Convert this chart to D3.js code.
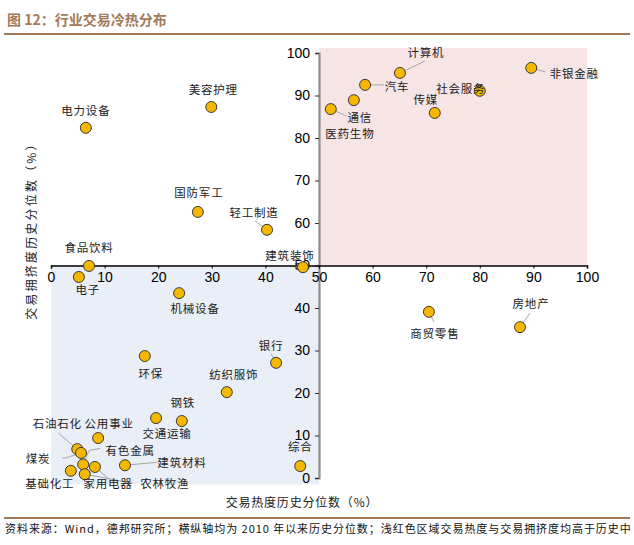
<!DOCTYPE html>
<html>
  <head>
    <meta charset="utf-8">
    <title>行业交易冷热分布</title>
    <style>
      body { margin: 0; background: #fff; font-family: "Noto Sans CJK SC", sans-serif; }
      .tick text { font-family: "Liberation Sans", Arial, sans-serif; font-size: 14px; fill: #000; }
      .lbl { font-size: 11.5px; fill: #222; letter-spacing: 0.8px; }
      .leader { fill: none; stroke: #a6a6a6; stroke-width: 1; }
      .dot { fill: #f5b700; stroke: #3a3a3a; stroke-width: 1; }
    </style>
  </head>
  <body>
    <script src="https://cdn.jsdelivr.net/npm/d3@7"></script>
    <script>
      // industries, trading heat percentile (x) and crowding percentile (y)
      var industries = ["非银金融","计算机","汽车","通信","医药生物","传媒","社会服务","美容护理","电力设备","国防军工",
                        "轻工制造","食品饮料","建筑装饰","电子","机械设备","商贸零售","房地产","环保","银行","纺织服饰",
                        "钢铁","交通运输","公用事业","石油石化","煤炭","有色金属","建筑材料","基础化工","家用电器","农林牧渔","综合"];
      var heat =  [89.6, 65.1, 58.6, 52.2, 56.5, 71.6, 80.0, 29.9, 6.5, 27.4,
                   40.3, 7.1, 47.0, 5.2, 23.9, 70.5, 87.5, 17.5, 42.0, 32.8,
                   24.4, 19.6, 8.8, 4.9, 5.6, 6.0, 13.8, 3.7, 8.2, 6.3, 46.5];
      var crowd = [96.5, 95.3, 92.5, 86.8, 88.9, 85.9, 91.1, 87.3, 82.4, 62.6,
                   58.4, 49.9, 49.6, 47.3, 43.5, 39.1, 35.5, 28.7, 27.1, 20.2,
                   13.4, 14.1, 9.4, 6.8, 5.9, 3.2, 3.0, 1.7, 2.6, 0.9, 2.8];
      var xTicks = [0,10,20,30,40,50,60,70,80,90,100];
      var yTicks = [0,10,20,30,40,50,60,70,80,90,100];

      // label placement (pixel offsets from the dot) and leader lines
      var labelPos = {
        "非银金融":[43,5,[[14,4]]], "计算机":[26,-21,[[25,-12]]], "汽车":[32,1,[[19,0]]],
        "通信":[29,8,[[16,7]]], "医药生物":[-4,33], "传媒":[-9,-14], "社会服务":[-19,-3],
        "美容护理":[2,-18], "电力设备":[0,-18], "国防军工":[1,-20], "轻工制造":[-13,-18,[[-12,-9]]],
        "食品饮料":[0,-19], "建筑装饰":[-13,-12], "电子":[9,12], "机械设备":[16,15],
        "商贸零售":[6,21,[[5,10]]], "房地产":[11,-24,[[10,-14]]], "环保":[6,17], "银行":[-5,-18,[[-5,-9]]],
        "纺织服饰":[7,-18], "钢铁":[1,-19], "交通运输":[11,15], "公用事业":[11,-15],
        "石油石化":[-20,-26,[[-19,-16]]], "煤炭":[-43,5,[[-15,5],[-19,5]]],
        "有色金属":[47,-14,[[6,-14],[17,-16]]], "建筑材料":[57,-3,[[32,-3]]],
        "基础化工":[-21,12], "家用电器":[13,16,[[15,13]]], "农林牧渔":[80,9,[[48,9]]], "综合":[0,-20]
      };

      var W = 634, H = 545;
      var svg = d3.select("body").append("svg").attr("width", W).attr("height", H);

      var x = d3.scaleLinear().domain([0, 100]).range([51, 587]);
      var y = d3.scaleLinear().domain([0, 100]).range([478, 53]);

      // header and footer
      svg.append("text").attr("x", 7).attr("y", 25)
        .style("font-size", "14px").style("font-weight", "bold").style("fill", "#a27a58")
        .text("图 12：行业交易冷热分布");
      svg.append("line").attr("x1", 4).attr("x2", 630).attr("y1", 34).attr("y2", 34)
        .style("stroke", "#a27a58").style("stroke-width", 2);
      svg.append("line").attr("x1", 4).attr("x2", 630).attr("y1", 518).attr("y2", 518)
        .style("stroke", "#a27a58").style("stroke-width", 2);
      svg.append("text").attr("x", 5).attr("y", 533)
        .style("font-size", "11px").style("letter-spacing", "0.95px").style("fill", "#111")
        .text("资料来源：Wind，德邦研究所；横纵轴均为 2010 年以来历史分位数；浅红色区域交易热度与交易拥挤度均高于历史中");

      // shaded quadrants
      svg.append("rect").attr("x", x(0)).attr("y", y(50))
        .attr("width", x(50) - x(0)).attr("height", y(-1.5) - y(50)).style("fill", "#e9eef7");
      svg.append("rect").attr("x", x(50)).attr("y", y(101.2))
        .attr("width", x(100) - x(50)).attr("height", y(50) - y(101.2)).style("fill", "#f7e4e5");

      // axes crossing at (50,50)
      var yAxis = svg.append("g").attr("transform", "translate(" + x(50) + ",0)")
        .call(d3.axisLeft(y).tickValues(yTicks).tickSize(4).tickPadding(5));
      yAxis.select(".domain").style("stroke", "#8c8c8c").style("stroke-width", 2.2);
      yAxis.selectAll(".tick line").style("stroke", "#333");

      var xAxis = svg.append("g").attr("transform", "translate(0," + y(50) + ")")
        .call(d3.axisBottom(x).tickValues(xTicks).tickSize(3).tickPadding(4));
      xAxis.select(".domain").style("stroke", "#000").style("stroke-width", 1.5);

      // axis titles
      svg.append("text").attr("x", 302).attr("y", 507).attr("text-anchor", "middle")
        .attr("class", "lbl").style("font-size", "12px").text("交易热度历史分位数（%）");
      svg.append("text").attr("transform", "translate(36,228) rotate(-90)").attr("text-anchor", "middle")
        .attr("class", "lbl").style("font-size", "12px").style("letter-spacing", "2.2px")
        .text("交易拥挤度历史分位数（%）");

      var pts = industries.map(function (name, i) {
        return {name: name, heat: heat[i], crowd: crowd[i], pos: labelPos[name]};
      });

      // leader lines
      pts.forEach(function (d) {
        if (!d.pos[2]) return;
        var px = x(d.heat), py = y(d.crowd);
        var path = [[px, py]].concat(d.pos[2].map(function (o) { return [px + o[0], py + o[1]]; }));
        svg.append("path").attr("class", "leader").attr("d", d3.line()(path));
      });

      svg.selectAll(".dot").data(pts).enter().append("circle")
        .attr("class", "dot")
        .attr("cx", function (d) { return x(d.heat); })
        .attr("cy", function (d) { return y(d.crowd); })
        .attr("r", 5.5);

      svg.selectAll(".ptlbl").data(pts).enter().append("text")
        .attr("class", "lbl ptlbl")
        .attr("x", function (d) { return x(d.heat) + d.pos[0]; })
        .attr("y", function (d) { return y(d.crowd) + d.pos[1]; })
        .attr("text-anchor", "middle")
        .attr("dominant-baseline", "central")
        .text(function (d) { return d.name; });
    </script>
  </body>
</html>
